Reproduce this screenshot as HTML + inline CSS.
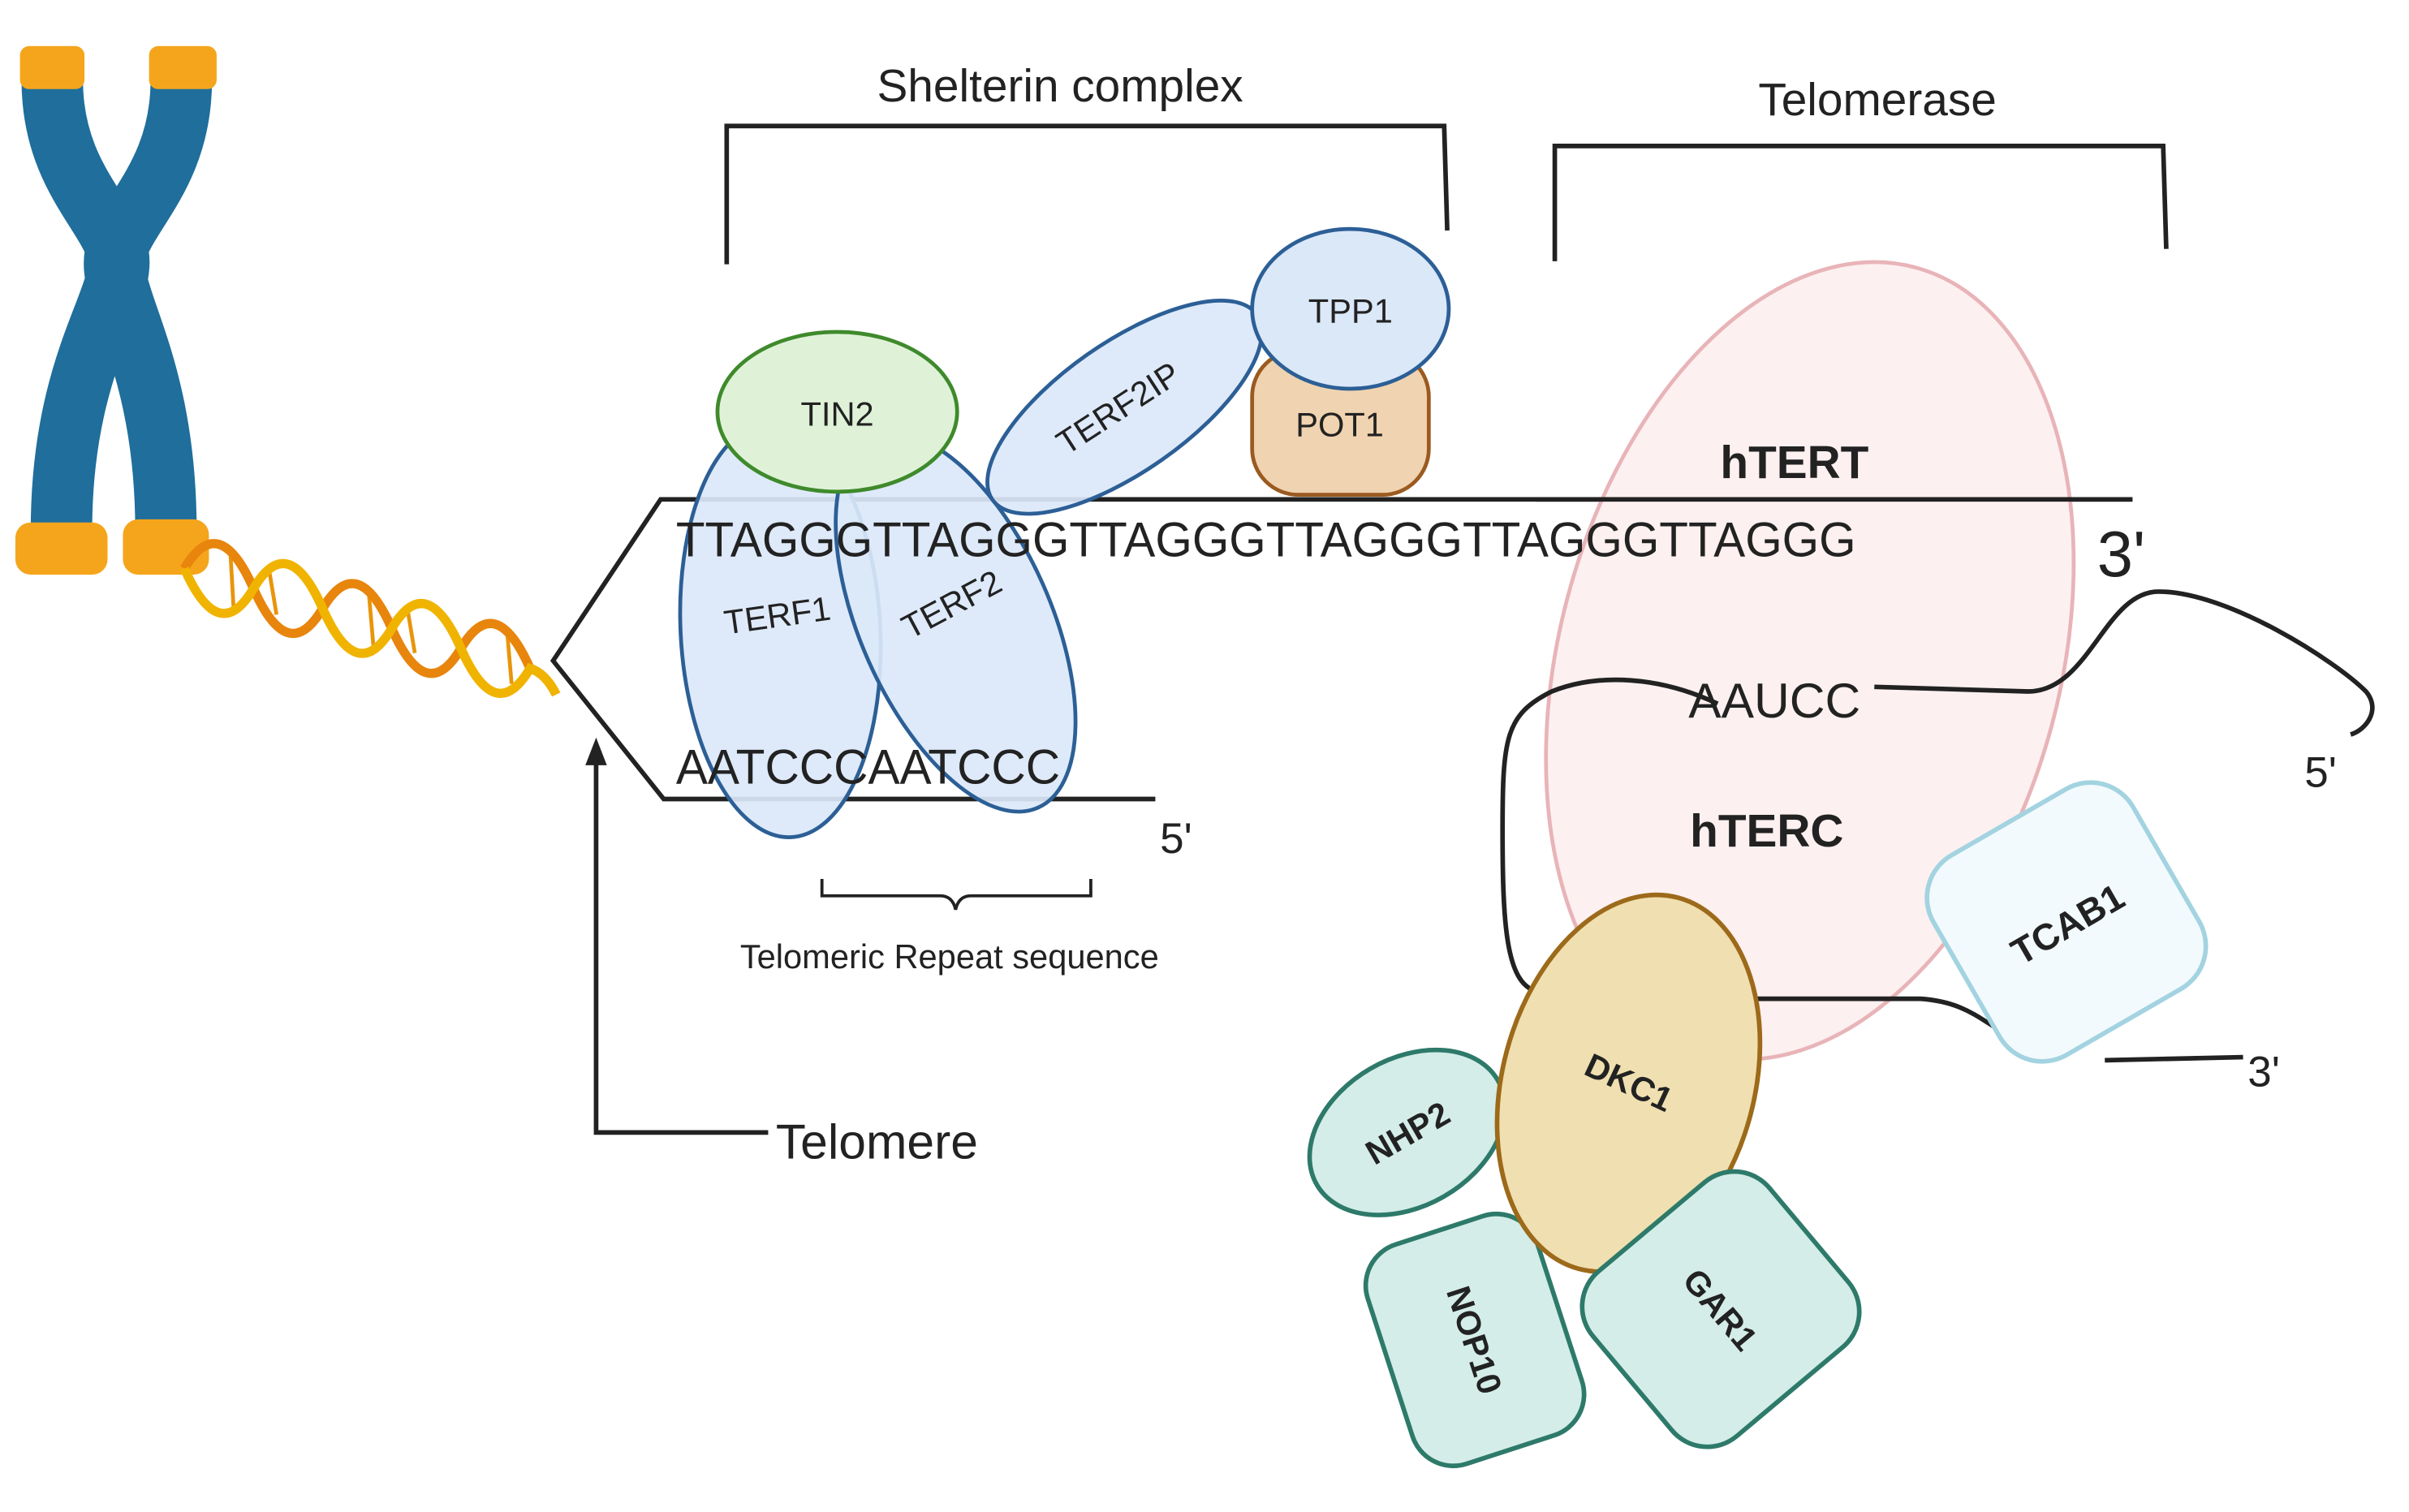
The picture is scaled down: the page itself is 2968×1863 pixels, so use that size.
<!DOCTYPE html>
<html><head><style>html,body{margin:0;padding:0;background:#fff}svg{display:block}text{font-family:"Liberation Sans",sans-serif;fill:#222}</style></head><body>
<svg width="2968" height="1863" viewBox="0 0 1568 984" preserveAspectRatio="none" xmlns="http://www.w3.org/2000/svg">
<!-- chromosome -->
<g fill="none" stroke="#1f6e9c" stroke-linecap="butt">
<path d="M34,52 C34,110 66,135 76,162 C86,190 40,230 40,345" stroke-width="40"/>
<path d="M118,52 C118,110 86,135 76,162 C66,190 108,230 108,345" stroke-width="40"/>
</g>
<g fill="#f5a51c">
<rect x="13" y="30" width="42" height="28" rx="6"/>
<rect x="97" y="30" width="44" height="28" rx="6"/>
<rect x="10" y="340" width="60" height="34" rx="10"/>
<rect x="80" y="338" width="56" height="36" rx="10"/>
</g>
<!-- DNA helix -->
<g stroke="#e8950c" stroke-width="2.5">
<line x1="150" y1="360" x2="152" y2="395"/><line x1="175" y1="370" x2="180" y2="400"/><line x1="240" y1="385" x2="243" y2="420"/><line x1="265" y1="395" x2="270" y2="425"/><line x1="330" y1="410" x2="333" y2="445"/>
</g>
<g fill="none" stroke-width="6">
<path d="M120,370 Q142.5,332 165,383 T210,396 T255,409 T300,422 T345,435 Q355,438 362,452" stroke="#e8850c"/>
<path d="M120,370 Q142.5,421 165,383 T210,396 T255,409 T300,422 T345,435 Q355,438 362,452" stroke="#f0b400"/>
</g>
<!-- hexagon lines -->
<g stroke="#222" stroke-width="3" fill="none">
<polyline points="1388,325 430,325 360,430 432,520 752,520"/>
<polyline points="473,172 473,82 940,82 942,150"/>
<polyline points="1012,170 1012,95 1408,95 1410,162"/>
<polyline points="388,490 388,737 500,737"/>
<path d="M535,572 L535,583 L612,583 Q620,583 622,592 Q624,583 632,583 L710,583 L710,572" stroke-width="2"/>
</g>
<polygon points="388,480 381,498 395,498" fill="#222"/>
<text x="690" y="66" font-size="30" text-anchor="middle">Shelterin complex</text>
<text x="1222" y="75" font-size="30" text-anchor="middle">Telomerase</text>
<text x="618" y="630" font-size="22" text-anchor="middle">Telomeric Repeat sequence</text>
<text x="505" y="754" font-size="32">Telomere</text>
<!-- shelterin proteins -->
<g fill="#dbe8f8" fill-opacity="0.92" stroke="#2c5f96" stroke-width="2.5">
<ellipse cx="508" cy="410" rx="65" ry="135" transform="rotate(-3 508 410)"/>
<ellipse cx="622" cy="405" rx="62" ry="132" transform="rotate(-24 622 405)"/>
<ellipse cx="732" cy="265" rx="105" ry="42" transform="rotate(-35 732 265)"/>
</g>
<ellipse cx="545" cy="268" rx="78" ry="52" fill="#dff2d8" stroke="#3f8a2c" stroke-width="2.5"/>
<rect x="815" y="228" width="115" height="94" rx="30" fill="#f0d3b0" stroke="#9a5a20" stroke-width="2.5"/>
<ellipse cx="879" cy="201" rx="64" ry="52" fill="#dbe8f8" stroke="#2c5f96" stroke-width="2.5"/>
<text x="545" y="277" font-size="22" text-anchor="middle">TIN2</text>
<text x="879" y="210" font-size="22" text-anchor="middle">TPP1</text>
<text x="872" y="284" font-size="22" text-anchor="middle">POT1</text>
<text x="507" y="408" font-size="22" text-anchor="middle" transform="rotate(-8 507 408)">TERF1</text>
<text x="623" y="400" font-size="22" text-anchor="middle" transform="rotate(-28 623 400)">TERF2</text>
<text x="732" y="272" font-size="22" text-anchor="middle" transform="rotate(-33 732 272)">TERF2IP</text>
<!-- hTERT -->
<ellipse cx="1178" cy="430" rx="163" ry="265" transform="rotate(15 1178 430)" fill="#fdeeee" fill-opacity="0.9" stroke="#e8b4b8" stroke-width="2.5"/>
<line x1="1000" y1="325" x2="1388" y2="325" stroke="#222" stroke-width="3"/>
<text x="440" y="362" font-size="32" textLength="768" lengthAdjust="spacingAndGlyphs">TTAGGGTTAGGGTTAGGGTTAGGGTTAGGGTTAGGG</text>
<text x="440" y="510" font-size="32" textLength="250" lengthAdjust="spacingAndGlyphs">AATCCCAATCCC</text>
<text x="1365" y="375" font-size="42">3'</text>
<text x="755" y="555" font-size="28">5'</text>
<text x="1168" y="311" font-size="30" font-weight="bold" text-anchor="middle">hTERT</text>
<text x="1150" y="551" font-size="30" font-weight="bold" text-anchor="middle">hTERC</text>
<text x="1155" y="467" font-size="32" text-anchor="middle">AAUCC</text>
<!-- RNA -->
<g fill="none" stroke="#222" stroke-width="3">
<path d="M1220,447 L1320,450 C1360,450 1370,385 1405,385 C1450,385 1520,430 1540,450 C1550,462 1540,475 1530,478"/>
<path d="M1118,458 C1080,440 1040,438 1010,450 C980,465 978,480 978,540 C978,600 980,640 1000,645"/>
<path d="M1140,650 L1250,650 C1280,652 1290,665 1305,672"/>
<path d="M1370,690 L1460,688"/>
</g>
<text x="1500" y="512" font-size="28">5'</text>
<text x="1463" y="707" font-size="28">3'</text>
<!-- TCAB1 -->
<rect x="1270" y="525" width="150" height="150" rx="32" transform="rotate(-30 1345 600)" fill="#f2fafd" stroke="#a3d3e0" stroke-width="3"/>
<text x="1345" y="610" font-size="24" font-weight="bold" text-anchor="middle" transform="rotate(-30 1345 600)">TCAB1</text>
<!-- dyskerin complex -->
<ellipse cx="916" cy="737" rx="68" ry="48" transform="rotate(-30 916 737)" fill="#d4ede8" stroke="#2e7a6a" stroke-width="3"/>
<text x="916" y="745" font-size="22" font-weight="bold" text-anchor="middle" transform="rotate(-30 916 737)">NHP2</text>
<rect x="902" y="797" width="116" height="150" rx="28" transform="rotate(-18 960 872)" fill="#d4ede8" stroke="#2e7a6a" stroke-width="3"/>
<text x="960" y="880" font-size="22" font-weight="bold" text-anchor="middle" transform="rotate(72 960 872)">NOP10</text>
<ellipse cx="1060" cy="705" rx="82" ry="125" transform="rotate(15 1060 705)" fill="#f0dfb0" stroke="#9c6a1a" stroke-width="3"/>
<text x="1060" y="712" font-size="22" font-weight="bold" text-anchor="middle" transform="rotate(25 1060 705)">DKC1</text>
<rect x="1045" y="782" width="150" height="140" rx="30" transform="rotate(-40 1120 852)" fill="#d4ede8" stroke="#2e7a6a" stroke-width="3"/>
<text x="1120" y="860" font-size="22" font-weight="bold" text-anchor="middle" transform="rotate(50 1120 852)">GAR1</text>
</svg>
</body></html>
